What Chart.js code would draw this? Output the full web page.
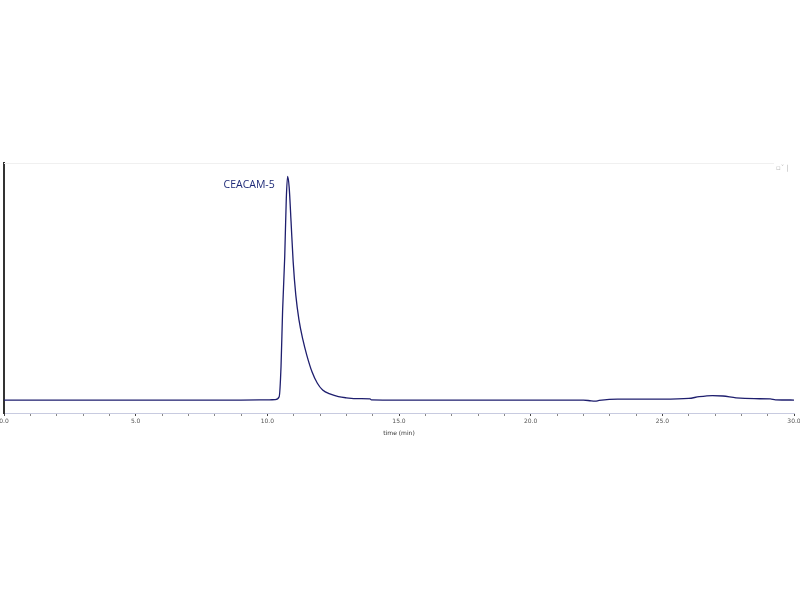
<!DOCTYPE html>
<html>
<head>
<meta charset="utf-8">
<script src="https://cdn.jsdelivr.net/npm/chart.js@4"></script>
<style>
  html, body { margin: 0; padding: 0; background: #fff; }
  #wrap { width: 800px; height: 600px; position: relative; }
</style>
</head>
<body>
<div id="wrap"><canvas id="chrom"></canvas></div>
<script>
// retention time (min) and detector signal
const times = [0, 2, 4, 6, 8, 9, 10, 10.3, 10.45, 10.52, 10.58, 10.66, 10.72, 10.77, 10.83, 10.9, 10.98, 11.08, 11.2, 11.35, 11.5, 11.7, 11.9, 12.1, 12.4, 12.7, 13.0, 13.5, 13.9, 13.95, 15, 18, 20, 22, 22.3, 22.45, 22.6, 23.3, 24, 25, 26, 26.4, 26.9, 27.3, 27.8, 28.5, 29.1, 29.3, 30];
const signal = [0, 0, 0, 0, 0, 0, 0.05, 0.2, 1.5, 15, 40, 64, 90, 100, 95, 80, 62, 47, 36, 27, 20, 12.5, 7.5, 4.5, 2.6, 1.5, 1.0, 0.6, 0.5, 0.1, 0, 0, 0, 0, -0.4, -0.5, -0.2, 0.4, 0.4, 0.4, 0.7, 1.5, 2.0, 1.8, 1.0, 0.6, 0.5, 0.1, 0];
const peakLabel = "CEACAM-5";
const peakLabelAt = [10.28, 96];
const axisTitle = "time (min)";

const lineColor = '#1e1e6e';

// peak label, axis title and the faint top decorations
const extras = {
    id: 'extras',
    afterDatasetsDraw(chart) {
        const ctx = chart.ctx;
        const area = chart.chartArea;
        const x = chart.scales.x.getPixelForValue(peakLabelAt[0]);
        const y = chart.scales.y.getPixelForValue(peakLabelAt[1]);
        ctx.save();
        ctx.font = '10.5px "Open Sans", sans-serif';
        ctx.fillStyle = '#1e2a78';
        ctx.textAlign = 'right';
        ctx.textBaseline = 'middle';
        ctx.fillText(peakLabel, x, y);

        ctx.font = '6px "DejaVu Sans", sans-serif';
        ctx.fillStyle = '#333';
        ctx.textAlign = 'center';
        ctx.fillText(axisTitle, (area.left + area.right) / 2, area.bottom + 20);

        ctx.strokeStyle = '#f0f0f0';
        ctx.lineWidth = 1;
        ctx.beginPath();
        ctx.moveTo(area.left, area.top + 0.5);
        ctx.lineTo(area.right - 20, area.top + 0.5);
        ctx.stroke();
        ctx.font = '7px "DejaVu Sans", sans-serif';
        ctx.fillStyle = '#b8b8b8';
        ctx.textAlign = 'left';
        ctx.fillText('\u25AB\u02C7 |', area.right - 18, area.top + 5);
        ctx.restore();
    }
};

new Chart(document.getElementById('chrom').getContext('2d'), {
    type: 'line',
    data: {
        datasets: [{
            data: times.map((t, i) => ({ x: t, y: signal[i] })),
            borderColor: lineColor,
            borderWidth: 1.3,
            pointRadius: 0,
            fill: false,
            cubicInterpolationMode: 'monotone'
        }]
    },
    options: {
        responsive: true,
        maintainAspectRatio: false,
        animation: false,
        layout: { padding: { top: 163, left: 0, right: 6, bottom: 0 } },
        plugins: { legend: { display: false }, tooltip: { enabled: false } },
        scales: {
            x: {
                type: 'linear',
                min: 0,
                max: 30,
                afterFit(scale) {
                    scale.height = 187;
                    scale.paddingRight = 0;
                    scale.paddingLeft = 0;
                },
                ticks: {
                    stepSize: 1,
                    autoSkip: false,
                    maxRotation: 0,
                    padding: 2,
                    color: '#555',
                    font: { size: 6, family: '"DejaVu Sans", sans-serif' },
                    callback: v => (v % 5 === 0 ? v.toFixed(1) : '')
                },
                grid: {
                    drawOnChartArea: false,
                    tickLength: 3,
                    color: ctx => (ctx.tick && ctx.tick.value % 5 === 0 ? '#444' : '#888')
                },
                border: { color: '#c8cbe0', width: 1 }
            },
            y: {
                min: -5.8,
                max: 106,
                afterFit(scale) { scale.width = 4; },
                ticks: { display: false },
                grid: { display: false },
                border: { color: '#333', width: 2 }
            }
        }
    },
    plugins: [extras]
});
</script>
</body>
</html>
